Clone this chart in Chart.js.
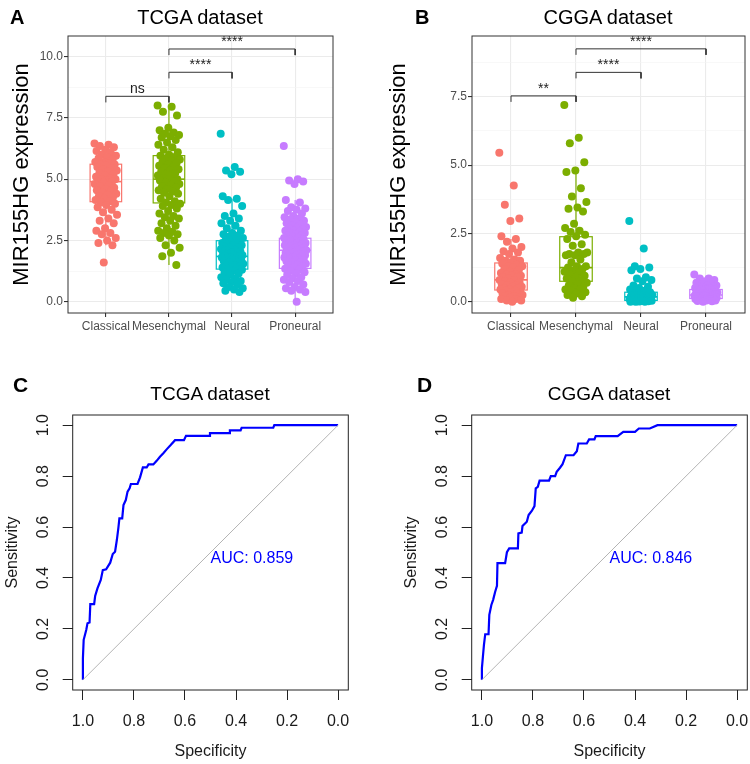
<!DOCTYPE html>
<html lang="en">
<head>
<meta charset="UTF-8">
<title>MIR155HG expression by subtype and ROC curves</title>
<script src="https://cdn.jsdelivr.net/npm/chart.js@4"></script>
<style>
    body {
        margin: 0;
        background: #fff;
        font-family: "Liberation Sans", Arial, sans-serif;
    }
    .fig { position: relative; width: 750px; height: 764px; }
    .panel { position: absolute; }
    .tag { position: absolute; font-weight: bold; line-height: 1; color: #000; }
    .ttl { position: absolute; line-height: 1; text-align: center; color: #000; white-space: nowrap; width: 200px; }
</style>
</head>
<body>
<div class="fig">
    <div class="panel" style="left:0;top:0"><canvas id="boxA" width="375" height="340"></canvas></div>
    <div class="panel" style="left:375px;top:0"><canvas id="boxB" width="375" height="340"></canvas></div>
    <div class="panel" style="left:0;top:340px"><canvas id="rocC" width="375" height="424"></canvas></div>
    <div class="panel" style="left:375px;top:340px"><canvas id="rocD" width="375" height="424"></canvas></div>

    <div class="tag" style="left:10px;top:7px;font-size:20px">A</div>
    <div class="ttl" style="left:100px;top:7px;font-size:20px">TCGA dataset</div>
    <div class="tag" style="left:415px;top:7px;font-size:20px">B</div>
    <div class="ttl" style="left:508px;top:7px;font-size:20px">CGGA dataset</div>
    <div class="tag" style="left:13px;top:374px;font-size:21px">C</div>
    <div class="ttl" style="left:110px;top:384px;font-size:19px">TCGA dataset</div>
    <div class="tag" style="left:417px;top:374px;font-size:21px">D</div>
    <div class="ttl" style="left:509px;top:384px;font-size:19px">CGGA dataset</div>
</div>

<script>
    const FONT = '"Liberation Sans", Arial, sans-serif';

    const groups = ['Classical', 'Mesenchymal', 'Neural', 'Proneural'];
    const groupColors = ['#F8766D', '#7CAE00', '#00BFC4', '#C77CFF'];

    // TCGA expression (panel A)
    const tcgaClassical = [6.45, 6.4, 6.35, 6.3, 6.2, 6.15, 6.1, 6.0, 5.95, 5.9, 5.85, 5.8, 5.7, 5.7, 5.65, 5.6, 5.6, 5.55,
        5.5, 5.45, 5.4, 5.35, 5.3, 5.25, 5.2, 5.15, 5.1, 5.05, 5.0, 5.0, 4.95, 4.9, 4.9, 4.85, 4.8, 4.75, 4.7, 4.65, 4.6,
        4.55, 4.5, 4.45, 4.4, 4.35, 4.3, 4.25, 4.2, 4.15, 4.1, 4.05, 4.0, 3.95, 3.85, 3.75, 3.65, 3.55, 3.4, 3.3, 3.2,
        3.0, 2.9, 2.8, 2.75, 2.6, 2.5, 2.4, 2.3, 1.6];
    const tcgaMesenchymal = [8.0, 7.95, 7.75, 7.6, 7.1, 7.0, 6.9, 6.85, 6.8, 6.75, 6.7, 6.6, 6.5, 6.4, 6.3, 6.2, 6.1, 6.0,
        5.95, 5.9, 5.85, 5.8, 5.75, 5.7, 5.65, 5.6, 5.55, 5.5, 5.45, 5.4, 5.35, 5.3, 5.25, 5.2, 5.15, 5.1, 5.05, 5.0, 5.0,
        4.95, 4.9, 4.85, 4.8, 4.75, 4.7, 4.65, 4.6, 4.55, 4.5, 4.45, 4.4, 4.3, 4.2, 4.1, 4.05, 4.0, 3.95, 3.9, 3.8, 3.7,
        3.6, 3.5, 3.45, 3.4, 3.3, 3.2, 3.1, 3.0, 2.9, 2.85, 2.8, 2.75, 2.7, 2.6, 2.5, 2.3, 2.2, 2.0, 1.85, 1.5];
    const tcgaNeural = [6.85, 5.5, 5.35, 5.3, 5.2, 4.3, 4.2, 4.15, 3.9, 3.6, 3.5, 3.4, 3.3, 3.2, 3.1, 3.0, 2.9, 2.8, 2.75,
        2.7, 2.65, 2.6, 2.55, 2.5, 2.5, 2.45, 2.4, 2.4, 2.35, 2.3, 2.3, 2.25, 2.2, 2.2, 2.15, 2.1, 2.1, 2.05, 2.0, 2.0,
        1.95, 1.95, 1.9, 1.9, 1.85, 1.85, 1.8, 1.8, 1.75, 1.75, 1.7, 1.7, 1.65, 1.6, 1.6, 1.55, 1.5, 1.5, 1.45, 1.4, 1.4,
        1.35, 1.3, 1.3, 1.25, 1.2, 1.15, 1.1, 1.0, 0.95, 0.9, 0.85, 0.8, 0.75, 0.7, 0.6, 0.55, 0.5, 0.45, 0.4];
    const tcgaProneural = [6.35, 5.0, 4.95, 4.9, 4.8, 4.15, 4.05, 3.85, 3.8, 3.75, 3.7, 3.6, 3.5, 3.45, 3.4, 3.35, 3.3,
        3.25, 3.2, 3.15, 3.1, 3.05, 3.0, 3.0, 2.95, 2.9, 2.9, 2.85, 2.8, 2.8, 2.75, 2.7, 2.7, 2.65, 2.6, 2.6, 2.55, 2.55,
        2.5, 2.5, 2.45, 2.45, 2.4, 2.4, 2.35, 2.35, 2.3, 2.3, 2.25, 2.25, 2.2, 2.2, 2.15, 2.15, 2.1, 2.1, 2.1, 2.05, 2.05,
        2.0, 2.0, 1.95, 1.95, 1.9, 1.9, 1.85, 1.85, 1.8, 1.8, 1.75, 1.75, 1.7, 1.7, 1.65, 1.6, 1.6, 1.55, 1.5, 1.5, 1.45,
        1.4, 1.35, 1.3, 1.25, 1.2, 1.15, 1.1, 1.0, 0.95, 0.9, 0.85, 0.8, 0.7, 0.6, 0.55, 0.5, 0.45, 0.4, 0.0];
    // [lower whisker, Q1, median, Q3, upper whisker]
    const tcgaBoxStats = [[2.3, 4.08, 4.9, 5.61, 6.45], [1.5, 4.03, 5.0, 5.96, 8.0],
        [0.4, 1.33, 1.85, 2.49, 4.2], [0.0, 1.36, 2.1, 2.59, 4.15]];
    const tcgaPairs = [[0, 1], [1, 2], [1, 3]];
    const tcgaBracketY = [8.38, 9.36, 10.31];
    const tcgaBracketTip = [8.13, 9.11, 10.06];
    const tcgaSigLabels = ['ns', '****', '****'];
    const tcgaYTicks = [0, 1.25, 2.5, 3.75, 5, 6.25, 7.5, 8.75, 10];

    // CGGA expression (panel B)
    const cggaClassical = [5.45, 4.25, 3.55, 3.05, 2.95, 2.4, 2.3, 2.2, 2.0, 1.95, 1.85, 1.8, 1.75, 1.6, 1.55, 1.5, 1.5,
        1.45, 1.4, 1.35, 1.3, 1.3, 1.25, 1.2, 1.15, 1.1, 1.05, 1.0, 1.0, 0.95, 0.95, 0.9, 0.9, 0.85, 0.8, 0.8, 0.75, 0.7,
        0.7, 0.65, 0.6, 0.6, 0.55, 0.55, 0.5, 0.5, 0.45, 0.45, 0.4, 0.4, 0.35, 0.35, 0.3, 0.3, 0.25, 0.25, 0.2, 0.2,
        0.15, 0.15, 0.1, 0.1, 0.05, 0.05, 0.0];
    const cggaMesenchymal = [7.2, 6.0, 5.8, 5.1, 4.8, 4.75, 4.15, 3.85, 3.65, 3.45, 3.4, 3.3, 2.85, 2.7, 2.6, 2.55, 2.45,
        2.4, 2.3, 2.1, 2.05, 1.8, 1.8, 1.75, 1.75, 1.7, 1.7, 1.55, 1.45, 1.3, 1.3, 1.25, 1.2, 1.15, 1.1, 1.05, 1.0, 0.95,
        0.9, 0.85, 0.8, 0.75, 0.7, 0.65, 0.6, 0.55, 0.5, 0.45, 0.45, 0.4, 0.35, 0.3, 0.25, 0.2, 0.15];
    const cggaNeural = [2.95, 1.95, 1.3, 1.25, 1.2, 1.15, 0.9, 0.85, 0.8, 0.75, 0.6, 0.55, 0.5, 0.45, 0.4, 0.4, 0.35, 0.35,
        0.3, 0.3, 0.3, 0.25, 0.25, 0.25, 0.2, 0.2, 0.2, 0.2, 0.15, 0.15, 0.15, 0.15, 0.12, 0.12, 0.1, 0.1, 0.1, 0.08, 0.08,
        0.06, 0.05, 0.05, 0.04, 0.03, 0.02, 0.02, 0.01, 0.0, 0.0, 0.0];
    const cggaProneural = [1.0, 0.85, 0.85, 0.8, 0.75, 0.7, 0.7, 0.65, 0.6, 0.6, 0.55, 0.55, 0.5, 0.5, 0.5, 0.45, 0.45,
        0.45, 0.4, 0.4, 0.4, 0.35, 0.35, 0.35, 0.35, 0.3, 0.3, 0.3, 0.3, 0.28, 0.25, 0.25, 0.25, 0.25, 0.22, 0.2, 0.2, 0.2,
        0.2, 0.18, 0.15, 0.15, 0.15, 0.12, 0.12, 0.1, 0.1, 0.1, 0.08, 0.06, 0.05, 0.05, 0.03, 0.02, 0.0];
    const cggaBoxStats = [[0.0, 0.43, 0.8, 1.42, 2.3], [0.15, 0.75, 1.25, 2.38, 4.75],
        [0.0, 0.05, 0.18, 0.35, 0.8], [0.0, 0.12, 0.25, 0.45, 0.95]];
    const cggaPairs = [[0, 1], [1, 2], [1, 3]];
    const cggaBracketY = [7.53, 8.39, 9.25];
    const cggaBracketTip = [7.31, 8.17, 9.03];
    const cggaSigLabels = ['**', '****', '****'];
    const cggaYTicks = [0, 1.25, 2.5, 3.75, 5, 6.25, 7.5, 8.75];

    // ROC curves (panels C, D)
    const tcgaSpec = [1.0, 1.0, 0.997, 0.987, 0.982, 0.974, 0.971, 0.956, 0.952, 0.943, 0.930, 0.922, 0.909, 0.893, 0.883,
        0.874, 0.867, 0.861, 0.857, 0.846, 0.841, 0.832, 0.825, 0.817, 0.812, 0.786, 0.776, 0.765, 0.750, 0.743, 0.724,
        0.711, 0.698, 0.684, 0.671, 0.656, 0.639, 0.604, 0.596, 0.505, 0.502, 0.426, 0.424, 0.382, 0.378, 0.254, 0.250, 0.0];
    const tcgaSens = [0.0, 0.085, 0.157, 0.196, 0.222, 0.225, 0.297, 0.297, 0.329, 0.359, 0.392, 0.431, 0.434, 0.46, 0.494,
        0.503, 0.549, 0.597, 0.634, 0.634, 0.686, 0.706, 0.739, 0.752, 0.769, 0.769, 0.795, 0.834, 0.834, 0.846, 0.846,
        0.860, 0.876, 0.891, 0.906, 0.922, 0.941, 0.941, 0.958, 0.958, 0.969, 0.969, 0.980, 0.980, 0.990, 0.990, 1.0, 1.0];
    const cggaSpec = [1.0, 1.0, 0.996, 0.992, 0.987, 0.974, 0.971, 0.963, 0.956, 0.948, 0.941, 0.939, 0.909, 0.902, 0.893,
        0.859, 0.857, 0.844, 0.841, 0.824, 0.817, 0.804, 0.794, 0.789, 0.781, 0.774, 0.737, 0.730, 0.713, 0.707, 0.694,
        0.684, 0.671, 0.641, 0.628, 0.622, 0.589, 0.580, 0.559, 0.554, 0.468, 0.446, 0.400, 0.385, 0.342, 0.312, 0.0];
    const cggaSens = [0.0, 0.046, 0.092, 0.137, 0.179, 0.179, 0.255, 0.294, 0.314, 0.346, 0.369, 0.458, 0.458, 0.501, 0.516,
        0.516, 0.575, 0.578, 0.604, 0.621, 0.647, 0.664, 0.682, 0.752, 0.758, 0.782, 0.782, 0.8, 0.8, 0.817, 0.833, 0.847,
        0.882, 0.882, 0.898, 0.928, 0.928, 0.944, 0.944, 0.957, 0.957, 0.974, 0.974, 0.987, 0.987, 1.0, 1.0];
    const rocTicks = [0, 0.2, 0.4, 0.6, 0.8, 1.0];

    // horizontal jitter so points spread over the box (not data)
    const jitter = i => ((i * 0.6180339887) % 1 - 0.5) * 0.36;
    const isMajor = v => Math.abs(v / 2.5 - Math.round(v / 2.5)) < 1e-6;

    function frame(color) {
        return {
            id: 'frame',
            afterDraw(chart) {
                const { ctx, chartArea: a } = chart;
                ctx.save();
                ctx.strokeStyle = color;
                ctx.lineWidth = 1;
                ctx.strokeRect(a.left, a.top, a.right - a.left, a.bottom - a.top);
                ctx.restore();
            }
        };
    }

    function boxChart(id, series, stats, pairs, bY, bTip, sig, yTicks, yMin, yMax, axisW, padRight, titlePad) {
        const datasets = series.map((vals, g) => ({
            data: vals.map((v, i) => ({ x: g + jitter(i), y: v })),
            backgroundColor: groupColors[g],
            borderWidth: 0,
            pointRadius: 4
        }));
        pairs.forEach((p, k) => {
            datasets.push({
                type: 'line',
                data: [{ x: p[0], y: bTip[k] }, { x: p[0], y: bY[k] }, { x: p[1], y: bY[k] }, { x: p[1], y: bTip[k] }],
                borderColor: '#333',
                borderWidth: 1,
                pointRadius: 0,
                fill: false,
                clip: false
            });
        });

        const boxes = {
            id: 'boxes',
            beforeDatasetsDraw(chart) {
                const { ctx, scales: { x, y } } = chart;
                ctx.save();
                stats.forEach((s, g) => {
                    const x0 = x.getPixelForValue(g - 0.25), x1 = x.getPixelForValue(g + 0.25), xc = x.getPixelForValue(g);
                    const [lo, q1, md, q3, hi] = s.map(v => y.getPixelForValue(v));
                    ctx.strokeStyle = groupColors[g];
                    ctx.lineWidth = 1.2;
                    ctx.fillStyle = '#fff';
                    ctx.fillRect(x0, q3, x1 - x0, q1 - q3);
                    ctx.beginPath();
                    ctx.moveTo(xc, q3); ctx.lineTo(xc, hi);
                    ctx.moveTo(xc, q1); ctx.lineTo(xc, lo);
                    ctx.stroke();
                    ctx.strokeRect(x0, q3, x1 - x0, q1 - q3);
                    ctx.lineWidth = 1.6;
                    ctx.beginPath();
                    ctx.moveTo(x0, md); ctx.lineTo(x1, md);
                    ctx.stroke();
                });
                ctx.restore();
            },
            afterDatasetsDraw(chart) {
                const { ctx, scales: { x, y } } = chart;
                ctx.save();
                ctx.fillStyle = '#222';
                ctx.font = '14px ' + FONT;
                ctx.textAlign = 'center';
                ctx.textBaseline = 'alphabetic';
                pairs.forEach((p, k) => {
                    ctx.fillText(sig[k], x.getPixelForValue((p[0] + p[1]) / 2), y.getPixelForValue(bY[k]) - 3);
                });
                ctx.restore();
            }
        };

        return new Chart(document.getElementById(id), {
            type: 'scatter',
            data: { datasets },
            plugins: [boxes, frame('#333')],
            options: {
                responsive: false,
                animation: false,
                layout: { padding: { top: 36, right: padRight, left: 0, bottom: 0 } },
                plugins: { legend: { display: false }, tooltip: { enabled: false } },
                scales: {
                    x: {
                        type: 'linear', min: -0.6, max: 3.6,
                        afterBuildTicks: s => { s.ticks = groups.map((g, i) => ({ value: i })); },
                        afterFit: s => { s.height = 27; },
                        grid: { color: '#EBEBEB', lineWidth: 1.1, tickLength: 4, tickColor: '#333' },
                        border: { display: false },
                        ticks: {
                            padding: 2, color: '#4D4D4D', font: { size: 12, family: FONT },
                            autoSkip: false, maxRotation: 0, minRotation: 0,
                            callback: v => groups[v]
                        }
                    },
                    y: {
                        type: 'linear', min: yMin, max: yMax,
                        afterBuildTicks: s => { s.ticks = yTicks.map(v => ({ value: v })); },
                        afterFit: s => { s.width = axisW; },
                        grid: {
                            color: c => isMajor(c.tick.value) ? '#EBEBEB' : '#F4F4F4',
                            lineWidth: c => isMajor(c.tick.value) ? 1.1 : 0.6,
                            tickLength: 4,
                            tickColor: c => isMajor(c.tick.value) ? '#333' : 'rgba(0,0,0,0)'
                        },
                        border: { display: false },
                        ticks: {
                            padding: 1, color: '#4D4D4D', font: { size: 12, family: FONT },
                            callback: v => isMajor(v) ? v.toFixed(1) : ''
                        },
                        title: {
                            display: true, text: 'MIR155HG expression', color: '#000',
                            font: { size: 22, family: FONT }, padding: { top: titlePad, bottom: 0 }
                        }
                    }
                }
            }
        });
    }

    function rocChart(id, spec, sens, auc, axisW, padRight, titlePad) {
        const rocLabels = {
            id: 'rocLabels',
            afterDraw(chart) {
                const { ctx, chartArea: a, scales: { x, y } } = chart;
                ctx.save();
                ctx.fillStyle = '#1A1A1A';
                ctx.font = '16px ' + FONT;
                ctx.textAlign = 'center';
                ctx.textBaseline = 'middle';
                rocTicks.forEach(v => {
                    ctx.save();
                    ctx.translate(a.left - 29.5, y.getPixelForValue(v));
                    ctx.rotate(-Math.PI / 2);
                    ctx.fillText(v.toFixed(1), 0, 0);
                    ctx.restore();
                });
                ctx.fillStyle = '#0000FF';
                ctx.textAlign = 'left';
                ctx.fillText('AUC: ' + auc, x.getPixelForValue(0.5), y.getPixelForValue(0.475));
                ctx.restore();
            }
        };

        return new Chart(document.getElementById(id), {
            type: 'scatter',
            data: {
                datasets: [
                    {
                        type: 'line',
                        data: [{ x: 1, y: 0 }, { x: 0, y: 1 }],
                        borderColor: '#B4B4B4', borderWidth: 1, pointRadius: 0, fill: false
                    },
                    {
                        type: 'line',
                        data: spec.map((s, i) => ({ x: s, y: sens[i] })),
                        borderColor: '#0000FF', borderWidth: 2.2, pointRadius: 0, fill: false, tension: 0
                    }
                ]
            },
            plugins: [rocLabels, frame('#222')],
            options: {
                responsive: false,
                animation: false,
                layout: { padding: { top: 75, right: padRight, left: 0, bottom: 0 } },
                plugins: { legend: { display: false }, tooltip: { enabled: false } },
                scales: {
                    x: {
                        type: 'linear', min: -0.04, max: 1.04, reverse: true,
                        afterBuildTicks: s => { s.ticks = rocTicks.map(v => ({ value: v })); },
                        afterFit: s => { s.height = 74; },
                        grid: { drawOnChartArea: false, tickLength: 10, tickColor: '#222' },
                        border: { display: false },
                        ticks: {
                            padding: 12, color: '#1A1A1A', font: { size: 16, family: FONT },
                            autoSkip: false, maxRotation: 0, minRotation: 0,
                            callback: v => v.toFixed(1)
                        },
                        title: {
                            display: true, text: 'Specificity', color: '#1A1A1A',
                            font: { size: 16, family: FONT }, padding: { top: 0, bottom: 3 }
                        }
                    },
                    y: {
                        type: 'linear', min: -0.04, max: 1.04,
                        afterBuildTicks: s => { s.ticks = rocTicks.map(v => ({ value: v })); },
                        afterFit: s => { s.width = axisW; },
                        grid: { drawOnChartArea: false, tickLength: 10, tickColor: '#222' },
                        border: { display: false },
                        ticks: { display: false },
                        title: {
                            display: true, text: 'Sensitivity', color: '#1A1A1A',
                            font: { size: 16, family: FONT }, padding: { top: titlePad, bottom: 0 }
                        }
                    }
                }
            }
        });
    }

    boxChart('boxA', [tcgaClassical, tcgaMesenchymal, tcgaNeural, tcgaProneural], tcgaBoxStats,
        tcgaPairs, tcgaBracketY, tcgaBracketTip, tcgaSigLabels, tcgaYTicks, -0.46, 10.84, 68, 42, 9);
    boxChart('boxB', [cggaClassical, cggaMesenchymal, cggaNeural, cggaProneural], cggaBoxStats,
        cggaPairs, cggaBracketY, cggaBracketTip, cggaSigLabels, cggaYTicks, -0.41, 9.72, 97, 5, 11);
    rocChart('rocC', tcgaSpec, tcgaSens, '0.859', 72.7, 26.7, 3.4);
    rocChart('rocD', cggaSpec, cggaSens, '0.846', 96.7, 2.7, 27);
</script>
</body>
</html>
